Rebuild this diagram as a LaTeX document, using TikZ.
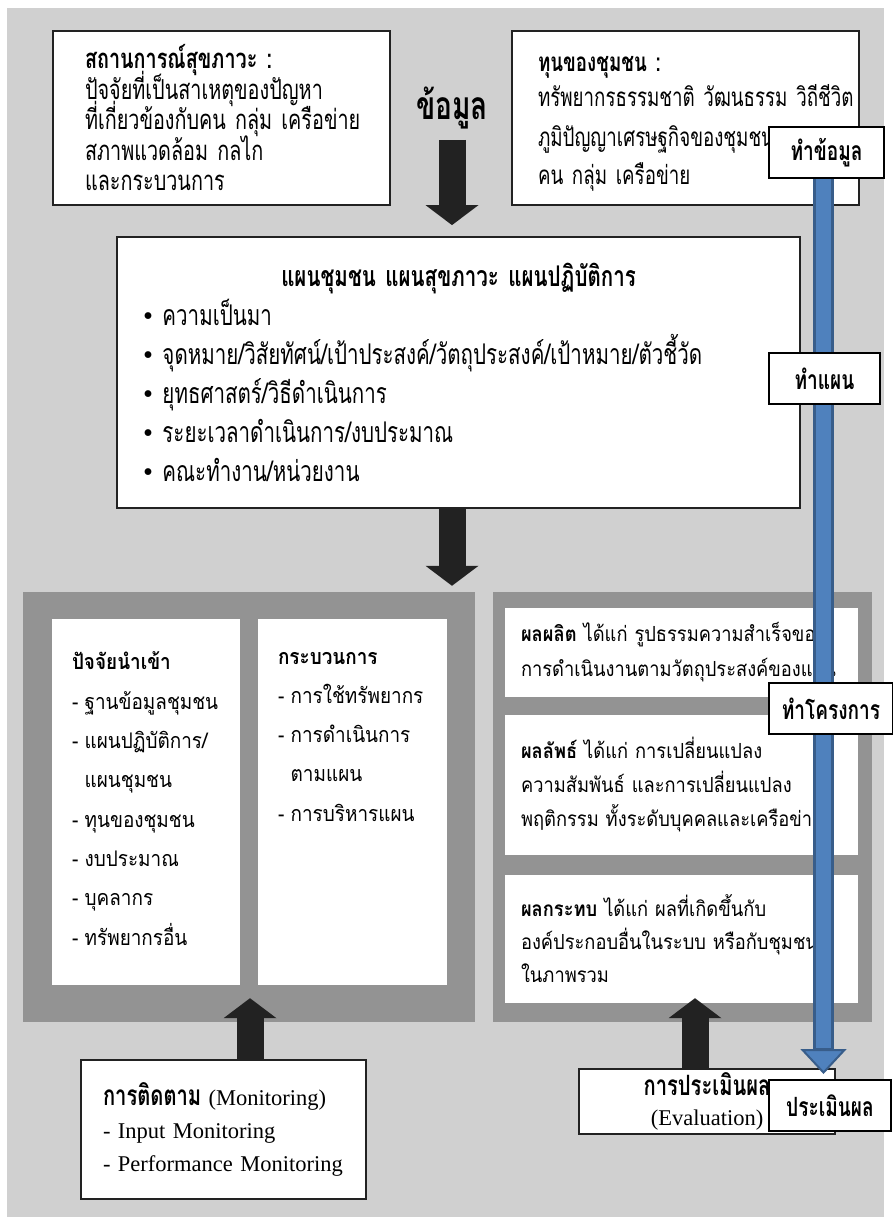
\documentclass[tikz,border=0pt]{standalone}
\usepackage{fontspec}
\setmainfont{Liberation Serif}
\newfontfamily\thaicond[Script=Thai, FakeStretch=0.72]{Loma}
\newfontfamily\thaifont[Script=Thai, FakeStretch=0.88]{Loma}
\usetikzlibrary{arrows.meta, positioning, calc}
\definecolor{bglight}{HTML}{D0D0D0}
\definecolor{paneldark}{HTML}{939393}
\definecolor{arrowblack}{HTML}{222222}
\definecolor{flowblue}{HTML}{4F81BD}
\definecolor{flowedge}{HTML}{385D8A}
\newcommand{\panelfont}{\thaifont\fontsize{21.5}{39.3}\selectfont}
\newcommand{\latinfont}{\fontsize{22.5}{33}\selectfont}
\newcommand{\dotmark}{{\fontspec{Liberation Serif}•}}
\tikzstyle{topbox} = [rectangle, draw=arrowblack, line width=1.8pt, fill=white, align=left, inner sep=0pt]
\tikzstyle{whitebox} = [rectangle, fill=white, inner sep=0pt]
\tikzstyle{panel} = [rectangle, fill=paneldark, inner sep=0pt]
\tikzstyle{tag} = [rectangle, draw=black, line width=2pt, fill=white, inner sep=0pt, minimum height=51pt, anchor=west, font=\thaicond\bfseries\fontsize{26.5}{30}\selectfont]
\tikzstyle{blockarrow} = [arrowblack, line width=27pt, -{Triangle[length=20pt, width=53pt, line width=0pt]}]

\begin{document}
\begin{tikzpicture}[x=1pt, y=-1pt, every node/.append style={execute at begin node={\lineskiplimit=-50pt\lineskip=0pt\relax}}]
  \useasboundingbox (0,0) rectangle (893,1217);
  \node[fill=bglight, minimum width=877pt, minimum height=1209pt, anchor=north west, inner sep=0pt] (bg) at (7,8) {};

  % top row
  \node[topbox, minimum width=337pt, minimum height=174pt, text width=273pt, font=\thaicond\fontsize{27.5}{30.5}\selectfont] (sit) at (221.5,118)
    {{\bfseries สถานการณ์สุขภาวะ~:}\\ ปัจจัยที่เป็นสาเหตุของปัญหา\\ ที่เกี่ยวข้องกับคน~กลุ่ม~เครือข่าย\\ สภาพแวดล้อม~กลไก\\ และกระบวนการ};
  \node[topbox, minimum width=347pt, minimum height=174pt, text width=295pt, font=\thaicond\fontsize{26}{35}\selectfont] (capital) at (685.5,118)
    {\rule{0pt}{26pt}{\bfseries ทุนของชุมชน~:}\\ ทรัพยากรธรรมชาติ~วัฒนธรรม~วิถีชีวิต\\[5pt] ภูมิปัญญาเศรษฐกิจของชุมชน\\[3pt] คน~กลุ่ม~เครือข่าย};
  \node[font=\thaicond\bfseries\fontsize{39}{42}\selectfont, inner sep=0pt] (datalbl) at (452,108) {ข้อมูล};

  \node[topbox, minimum width=683pt, minimum height=271pt, text width=631pt, font=\thaicond\fontsize{28.5}{39}\selectfont] (plan) at (458.5,372.5)
    {\makebox[631pt]{\bfseries แผนชุมชน แผนสุขภาวะ แผนปฏิบัติการ}\\
     \dotmark\ ความเป็นมา\\
     \dotmark\ จุดหมาย/วิสัยทัศน์/เป้าประสงค์/วัตถุประสงค์/เป้าหมาย/ตัวชี้วัด\\
     \dotmark\ ยุทธศาสตร์/วิธีดำเนินการ\\
     \dotmark\ ระยะเวลาดำเนินการ/งบประมาณ\\
     \dotmark\ คณะทำงาน/หน่วยงาน};

  % panels
  \node[panel, minimum width=452pt, minimum height=430pt] (inpanel) at (249,807) {};
  \node[panel, minimum width=379pt, minimum height=430pt] (outpanel) at (682.5,807) {};

  \node[whitebox, minimum width=188pt, minimum height=366pt] (inputs) at (146,802) {};
  \node[whitebox, minimum width=189pt, minimum height=366pt] (process) at (352.5,802) {};
  \node[below right=33pt and 20pt of inputs.north west, align=left, inner sep=0pt, font=\panelfont] (inputstxt)
    {{\bfseries ปัจจัยนำเข้า}\\ - ฐานข้อมูลชุมชน\\ - แผนปฏิบัติการ/\\ \phantom{- }แผนชุมชน\\ - ทุนของชุมชน\\ - งบประมาณ\\ - บุคลากร\\ - ทรัพยากรอื่น};
  \node[below right=33pt and 20pt of process.north west, align=left, inner sep=0pt, font=\panelfont] (processtxt)
    {{\bfseries กระบวนการ}\\ - การใช้ทรัพยากร\\ - การดำเนินการ\\ \phantom{- }ตามแผน\\ - การบริหารแผน};

  \node[whitebox, minimum width=353pt, minimum height=89pt, text width=321pt, align=left, font=\thaifont\fontsize{20.8}{35}\selectfont] (output) at (681.5,652.5)
    {{\bfseries ผลผลิต} ได้แก่ รูปธรรมความสำเร็จของ\\ การดำเนินงานตามวัตถุประสงค์ของแผน};
  \node[whitebox, minimum width=353pt, minimum height=140pt, text width=321pt, align=left, font=\thaifont\fontsize{20.8}{34}\selectfont] (outcome) at (681.5,785)
    {{\bfseries ผลลัพธ์} ได้แก่ การเปลี่ยนแปลง\\ ความสัมพันธ์ และการเปลี่ยนแปลง\\ พฤติกรรม ทั้งระดับบุคคลและเครือข่าย};
  \node[whitebox, minimum width=353pt, minimum height=128pt, text width=321pt, align=left, font=\thaifont\fontsize{20.8}{33}\selectfont] (impact) at (681.5,939)
    {{\bfseries ผลกระทบ} ได้แก่ ผลที่เกิดขึ้นกับ\\ องค์ประกอบอื่นในระบบ หรือกับชุมชน\\ ในภาพรวม};

  % bottom boxes
  \node[topbox, minimum width=285pt, minimum height=139pt, text width=241pt, font=\latinfont] (monitor) at (223.5,1129.5)
    {{\thaicond\bfseries\fontsize{28}{33}\selectfont การติดตาม} (Monitoring)\\ - Input Monitoring\\ - Performance Monitoring};
  \node[topbox, minimum width=256pt, minimum height=65pt, align=center, font=\fontsize{22.5}{30}\selectfont] (evaluate) at (707,1101.5)
    {{\thaicond\bfseries\fontsize{28}{30}\selectfont การประเมินผล}\\ (Evaluation)};

  % black arrows
  \draw[blockarrow, shorten >=11pt] ([yshift=-32pt]datalbl.center) -- (datalbl.south |- plan.north);
  \draw[blockarrow, shorten >=6pt] (plan.south -| datalbl) -- (datalbl |- inpanel.north);
  \draw[blockarrow, shorten >=-24pt] ([xshift=26.5pt]monitor.north) -- ([xshift=26.5pt]monitor.north |- inpanel.south);
  \draw[blockarrow, shorten >=-24pt] ([xshift=-12pt]evaluate.north) -- ([xshift=-12pt]evaluate.north |- outpanel.south);

  % blue flow
  \coordinate (flowx) at (823.5,0);
  \node[tag, minimum width=115pt] (tdata) at (768,152.5) {ทำข้อมูล};
  \node[tag, minimum width=122pt] (teval) at (768,1105.5) {ประเมินผล};
  \draw[flowedge, line width=21pt, -{Triangle[length=25pt, width=46pt, fill=flowblue, line width=2pt]}] (tdata.south -| flowx) -- ([yshift=5pt]teval.north -| flowx);
  \draw[flowblue, line width=15pt, shorten >=26pt] (tdata.south -| flowx) -- ([yshift=5pt]teval.north -| flowx);

  \node[tag, minimum width=115pt] at (tdata.west) {ทำข้อมูล};
  \node[tag, minimum width=111pt] (tplan) at (768,378.5) {ทำแผน};
  \node[tag, minimum width=124pt] (tproject) at (768,708.5) {ทำโครงการ};
  \node[tag, minimum width=122pt] at (teval.west) {ประเมินผล};
\end{tikzpicture}
\end{document}
